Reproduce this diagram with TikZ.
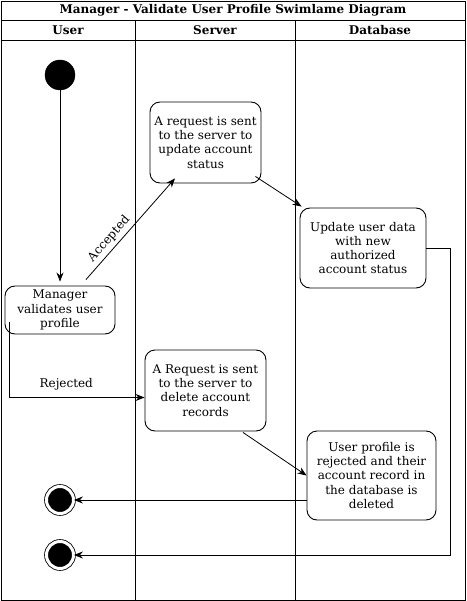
\documentclass[tikz,border=0pt]{standalone}
\usepackage{fontspec}
\setmainfont{DejaVu Serif}
\usepackage{tikz}
\usetikzlibrary{shapes,arrows.meta}
\tikzstyle{lane} = [line width=0.9pt]
\tikzstyle{head} = [font=\fontsize{12}{14}\selectfont\bfseries, inner sep=0pt]
\tikzstyle{state} = [rectangle, rounded corners=10pt, draw=black, line width=0.9pt, align=center, inner sep=2pt]
\tikzstyle{initial} = [circle, fill=black, draw=black, minimum size=30pt, inner sep=0pt]
\tikzstyle{final} = [circle, fill=black, draw=black, line width=0.8pt, double=white, double distance=3pt, minimum size=27pt, inner sep=0pt]
\tikzstyle{arrow} = [line width=0.8pt,-{Stealth[length=9pt,width=7pt]}]

\begin{document}
\begin{tikzpicture}[x=1pt, y=-1pt, font=\fontsize{12}{14.3}\selectfont]
    \useasboundingbox (0,0) rectangle (466,601);
    % swimlanes
    \draw [lane] (1,1) rectangle (465,600);
    \draw [lane] (1,20) -- (465,20);
    \draw [lane] (1,40) -- (465,40);
    \draw [lane] (135,20) -- (135,600);
    \draw [lane] (295,20) -- (295,600);
    \node (title) [head] at (233,10.5) {Manager - Validate User Profile Swimlame Diagram};
    \node (huser) [head] at (68,30.5) {User};
    \node (hserver) [head] at (215,30.5) {Server};
    \node (hdb) [head] at (380,30.5) {Database};

    \node (start) [initial] at (60,75) {};
    \node (mgr) [state, minimum width=110pt, minimum height=48pt] at (60,310) {Manager\\validates user\\profile};
    \node (req) [state, minimum width=111pt, minimum height=81pt] at (205.5,142.5) {A request is sent\\to the server to\\update account\\status};
    \node (upd) [state, minimum width=126pt, minimum height=80pt] at (363,248) {Update user data\\with new\\authorized\\account status};
    \node (del) [state, minimum width=121pt, minimum height=81pt] at (205.5,390.5) {A Request is sent\\to the server to\\delete account\\records};
    \node (dele) [state, minimum width=129pt, minimum height=89pt] at (371.5,475.5) {User profile is\\rejected and their\\account record in\\the database is\\deleted};
    \node (end1) [final] at (60,500) {};
    \node (end2) [final] at (60,555) {};

    \draw [arrow, shorten >=4pt] (start) -- (mgr);
    \draw [arrow] ([shift={(26,-6)}]mgr.north) -- node[sloped, above, pos=0.34] {Accepted} ([shift={(-30.5,-5)}]req.south);
    \draw [arrow] ([shift={(-6,-7)}]req.south east) -- ([shift={(2,-1)}]upd.north west);
    \draw [arrow] (upd.east) -- ++(24,0) |- (end2);
    \draw [arrow] ([shift={(5,-12)}]mgr.south west) |- node[above=4pt, pos=0.71] {Rejected} ([shift={(0,7)}]del.west);
    \draw [arrow] ([shift={(37.5,1)}]del.south) -- (dele.west);
    \draw [arrow] (end1 -| dele.west) -- (end1);
\end{tikzpicture}
\end{document}
